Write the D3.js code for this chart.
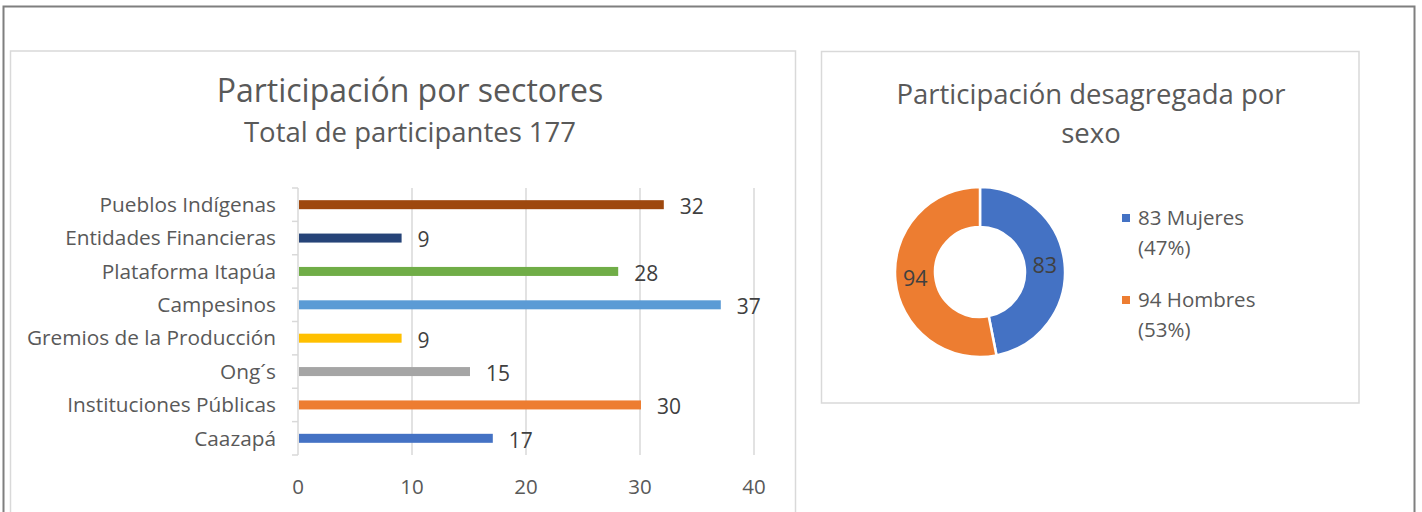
<!DOCTYPE html>
<html>
<head>
<meta charset="utf-8">
<script src="https://cdn.jsdelivr.net/npm/d3@7"></script>
<style>
  html, body { margin: 0; padding: 0; background: #fff; }
  svg { display: block; font-family: "Open Sans", "Noto Sans", sans-serif; }
</style>
</head>
<body>
<svg id="chart" width="1422" height="512"></svg>
<script>
// ─── Data ────────────────────────────────────────────────────────────────────

const sectors = [
  'Pueblos Indígenas', 'Entidades Financieras', 'Plataforma Itapúa', 'Campesinos',
  'Gremios de la Producción', 'Ong´s', 'Instituciones Públicas', 'Caazapá'
];
const sectorValues = [32, 9, 28, 37, 9, 15, 30, 17];
const sectorColors = ['#9e480e', '#264478', '#70ad47', '#5b9bd5', '#ffc000', '#a5a5a5', '#ed7d31', '#4472c4'];
const xTicks = [0, 10, 20, 30, 40];

const sexLabels = ['Mujeres', 'Hombres'];
const sexValues = [83, 94];
const sexColors = ['#4472c4', '#ed7d31'];

const theme = {
  text: '#595959',
  label: '#404040',
  grid: '#d9d9d9',
  frame: '#7f7f7f'
};

const svg = d3.select('#chart');
svg.append('rect').attr('width', 1422).attr('height', 512).attr('fill', '#fff');

// ─── Frames ──────────────────────────────────────────────────────────────────

svg.append('rect')
  .attr('x', 3.5).attr('y', 6.5).attr('width', 1411).attr('height', 540)
  .attr('fill', 'none').attr('stroke', theme.frame).attr('stroke-width', 2);

svg.append('rect')
  .attr('x', 10.5).attr('y', 51).attr('width', 785).attr('height', 500)
  .attr('fill', 'none').attr('stroke', theme.grid).attr('stroke-width', 1.5);

svg.append('rect')
  .attr('x', 821.5).attr('y', 51.5).attr('width', 537.5).attr('height', 351.5)
  .attr('fill', 'none').attr('stroke', theme.grid).attr('stroke-width', 1.5);

// ─── Bar chart ───────────────────────────────────────────────────────────────

const bar = svg.append('g');

bar.append('text')
  .attr('x', 410).attr('y', 102)
  .attr('text-anchor', 'middle')
  .attr('fill', theme.text)
  .style('font-size', '32px')
  .text('Participación por sectores');

bar.append('text')
  .attr('x', 410).attr('y', 142)
  .attr('text-anchor', 'middle')
  .attr('fill', theme.text)
  .style('font-size', '27.5px')
  .text('Total de participantes 177');

const x = d3.scaleLinear().domain([0, 40]).range([298, 754]);
const y = d3.scaleBand().domain(sectors).range([188, 455]);
const barH = 9;

// gridlines
bar.append('g')
  .selectAll('line')
  .data(xTicks.slice(1))
  .join('line')
  .attr('x1', d => x(d)).attr('x2', d => x(d))
  .attr('y1', 188).attr('y2', 455)
  .attr('stroke', theme.grid).attr('stroke-width', 1.5);

// category axis (line + outer ticks at band edges)
const bounds = sectors.map(s => y(s)).concat([y.range()[1]]);
bar.append('line')
  .attr('x1', x(0)).attr('x2', x(0))
  .attr('y1', 188).attr('y2', 455)
  .attr('stroke', theme.grid).attr('stroke-width', 1.5);
bar.append('g')
  .selectAll('line')
  .data(bounds)
  .join('line')
  .attr('x1', x(0) - 6).attr('x2', x(0))
  .attr('y1', d => d).attr('y2', d => d)
  .attr('stroke', theme.grid).attr('stroke-width', 1.5);

// category labels
bar.append('g')
  .selectAll('text')
  .data(sectors)
  .join('text')
  .attr('x', 276)
  .attr('y', d => y(d) + y.bandwidth() / 2)
  .attr('dy', '0.35em')
  .attr('text-anchor', 'end')
  .attr('fill', theme.text)
  .style('font-size', '20.8px')
  .text(d => d);

// x tick labels
bar.append('g')
  .selectAll('text')
  .data(xTicks)
  .join('text')
  .attr('x', d => x(d))
  .attr('y', 487)
  .attr('dy', '0.35em')
  .attr('text-anchor', 'middle')
  .attr('fill', theme.text)
  .style('font-size', '20.5px')
  .text(d => d);

// bars
bar.append('g')
  .selectAll('rect')
  .data(sectors)
  .join('rect')
  .attr('x', x(0) + 1)
  .attr('y', d => y(d) + (y.bandwidth() - barH) / 2)
  .attr('width', (d, i) => x(sectorValues[i]) - x(0))
  .attr('height', barH)
  .attr('fill', (d, i) => sectorColors[i]);

// value labels
bar.append('g')
  .selectAll('text')
  .data(sectors)
  .join('text')
  .attr('x', (d, i) => x(sectorValues[i]) + 17)
  .attr('y', d => y(d) + y.bandwidth() / 2 + 2)
  .attr('dy', '0.35em')
  .attr('fill', theme.label)
  .style('font-size', '21px')
  .text((d, i) => sectorValues[i]);

// ─── Donut ───────────────────────────────────────────────────────────────────

const pie = svg.append('g');

pie.append('text')
  .attr('x', 1091).attr('y', 104)
  .attr('text-anchor', 'middle')
  .attr('fill', theme.text)
  .style('font-size', '27.5px')
  .text('Participación desagregada por');
pie.append('text')
  .attr('x', 1091).attr('y', 143)
  .attr('text-anchor', 'middle')
  .attr('fill', theme.text)
  .style('font-size', '27.5px')
  .text('sexo');

const cx = 980, cy = 272, rOut = 85, rIn = 45;
const arcs = d3.pie().sort(null)(sexValues);
const arc = d3.arc().innerRadius(rIn).outerRadius(rOut);
const labelArc = d3.arc().innerRadius(65).outerRadius(65);

const donut = pie.append('g').attr('transform', `translate(${cx},${cy})`);
donut.selectAll('path')
  .data(arcs)
  .join('path')
  .attr('d', arc)
  .attr('fill', (d, i) => sexColors[i])
  .attr('stroke', '#fff')
  .attr('stroke-width', 2.5);

donut.selectAll('text')
  .data(arcs)
  .join('text')
  .attr('transform', d => `translate(${labelArc.centroid(d)})`)
  .attr('text-anchor', 'middle')
  .attr('dy', '0.35em')
  .attr('fill', theme.label)
  .style('font-size', '21.5px')
  .text(d => d.data);

// legend
const total = d3.sum(sexValues);
const legend = pie.append('g')
  .selectAll('g')
  .data(sexLabels)
  .join('g')
  .attr('transform', (d, i) => `translate(1122,${218 + i * 82})`);

legend.append('rect')
  .attr('x', 0).attr('y', -4)
  .attr('width', 8).attr('height', 8)
  .attr('fill', (d, i) => sexColors[i]);

legend.append('text')
  .attr('x', 16).attr('y', 0)
  .attr('dy', '0.35em')
  .attr('fill', theme.text)
  .style('font-size', '20.5px')
  .text((d, i) => `${sexValues[i]} ${d}`);

legend.append('text')
  .attr('x', 16).attr('y', 30)
  .attr('dy', '0.35em')
  .attr('fill', theme.text)
  .style('font-size', '20.5px')
  .text((d, i) => `(${Math.round(sexValues[i] / total * 100)}%)`);
</script>
</body>
</html>
